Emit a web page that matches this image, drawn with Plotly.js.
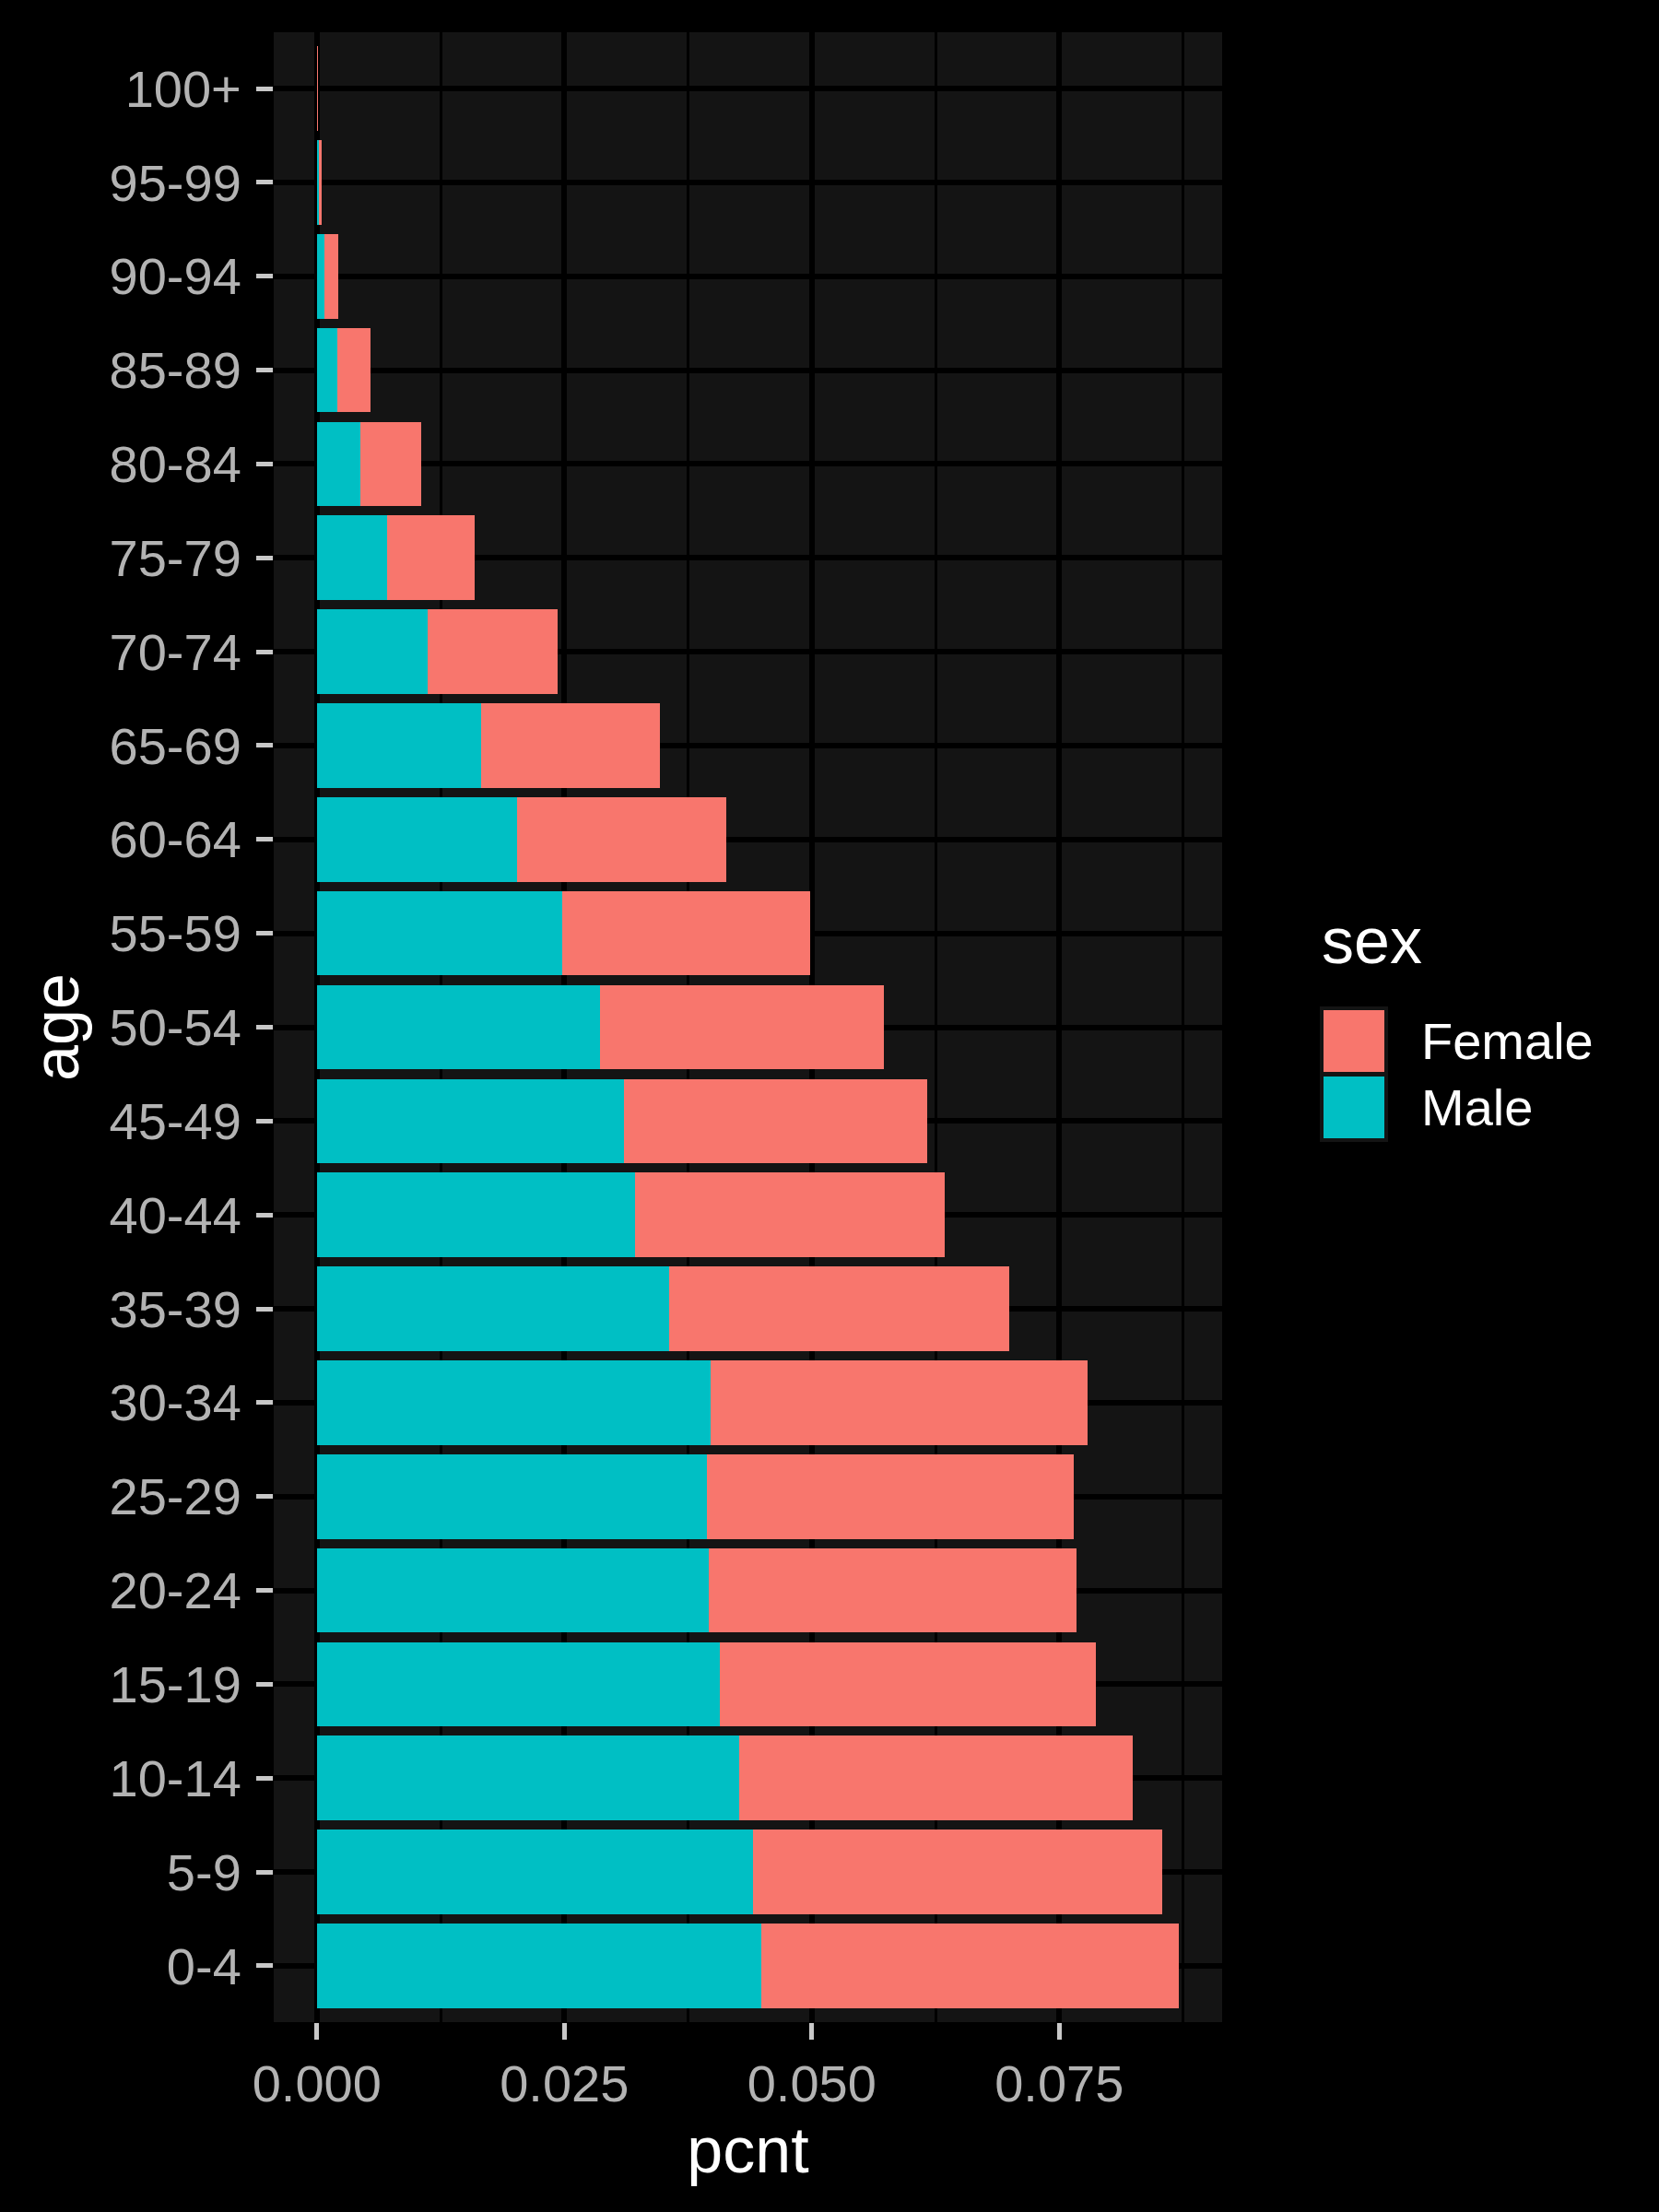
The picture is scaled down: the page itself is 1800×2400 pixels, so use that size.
<!DOCTYPE html>
<html><head><meta charset="utf-8">
<script src="https://cdn.plot.ly/plotly-3.0.1.min.js"></script>
<style>html,body{margin:0;padding:0;background:#000;} #chart{width:1800px;height:2400px;}</style>
</head><body><div id="chart"></div>
<script>
const ageGroups = ['0-4','5-9','10-14','15-19','20-24','25-29','30-34','35-39','40-44','45-49','50-54','55-59','60-64','65-69','70-74','75-79','80-84','85-89','90-94','95-99','100+'];
const malePcnt = [0.04494,0.04410,0.04263,0.04071,0.03963,0.03936,0.03974,0.03555,0.03210,0.03099,0.02864,0.02476,0.02020,0.01659,0.01123,0.00713,0.00438,0.00210,0.00073,0.00020,0.00002];
const femalePcnt = [0.04216,0.04126,0.03977,0.03795,0.03711,0.03706,0.03808,0.03444,0.03136,0.03064,0.02867,0.02512,0.02120,0.01807,0.01312,0.00883,0.00619,0.00331,0.00145,0.00033,0.00010];
const legendLabels = ['Female','Male'];
const colors = {Female:'#F8766D', Male:'#00BFC4'};

const totals = malePcnt.map((m,i)=>m+femalePcnt[i]);
const maxTotal = Math.max(...totals);

const FONT = 'Liberation Sans, Arial, Helvetica, sans-serif';
const W = 1800, H = 2400;
const M = {l:297, r:474, t:35, b:206};
const pw = W - M.l - M.r, ph = H - M.t - M.b;
const px = x => (x - M.l)/pw;
const py = y => (H - M.b - y)/ph;

const traces = [
  {type:'bar', orientation:'h', name:'Male', y:ageGroups, x:malePcnt,
   marker:{color:colors.Male, line:{width:0}}, showlegend:false},
  {type:'bar', orientation:'h', name:'Female', y:ageGroups, x:femalePcnt,
   marker:{color:colors.Female, line:{width:0}}, showlegend:false}
];

// legend drawn as chrome (keys + labels)
const keyTop = [1094, 1166];
const shapes = legendLabels.map((lab,i)=>({
  type:'rect', xref:'paper', yref:'paper', layer:'above',
  x0:px(1434), x1:px(1504), y0:py(keyTop[i]+71), y1:py(keyTop[i]),
  fillcolor:colors[lab], line:{color:'#141414', width:4}
}));
const annotations = [
  {xref:'paper', yref:'paper', x:px(1432), y:py(1021), xanchor:'left', yanchor:'middle',
   text:'sex', showarrow:false, font:{family:FONT, size:70, color:'#ffffff'}},
  ...legendLabels.map((lab,i)=>({xref:'paper', yref:'paper', x:px(1540), y:py(keyTop[i]+35),
   xanchor:'left', yanchor:'middle', text:lab, showarrow:false,
   font:{family:FONT, size:56, color:'#ffffff'}}))
];

const layout = {
  width:W, height:H,
  paper_bgcolor:'#000000', plot_bgcolor:'#141414',
  margin:M,
  barmode:'stack', bargap:0.1,
  showlegend:false,
  font:{family:FONT, color:'#ffffff'},
  xaxis:{
    range:[-0.05*maxTotal, 1.05*maxTotal],
    tick0:0, dtick:0.025, tickformat:'.3f',
    showgrid:true, gridcolor:'#000000', gridwidth:6,
    zeroline:false, showline:false,
    ticks:'outside', ticklen:18, tickwidth:5, tickcolor:'#c8c8c8',
    ticklabelstandoff:0,
    tickfont:{family:FONT, size:56, color:'#b3b3b3'},
    minor:{tick0:0, dtick:0.0125, showgrid:true, gridcolor:'#000000', gridwidth:3},
    title:{text:'pcnt', font:{family:FONT, size:70, color:'#ffffff'}, standoff:16},
    automargin:false, fixedrange:true
  },
  yaxis:{
    type:'category', categoryorder:'array', categoryarray:ageGroups,
    range:[-0.6, ageGroups.length-0.4],
    showgrid:true, gridcolor:'#000000', gridwidth:6,
    zeroline:false, showline:false,
    ticks:'outside', ticklen:18, tickwidth:5, tickcolor:'#c8c8c8',
    ticklabelstandoff:5,
    tickfont:{family:FONT, size:56, color:'#b3b3b3'},
    title:{text:'age', font:{family:FONT, size:70, color:'#ffffff'}, standoff:10},
    automargin:false, fixedrange:true
  },
  shapes:shapes,
  annotations:annotations
};

Plotly.newPlot('chart', traces, layout, {staticPlot:true, displayModeBar:false});
</script></body></html>
